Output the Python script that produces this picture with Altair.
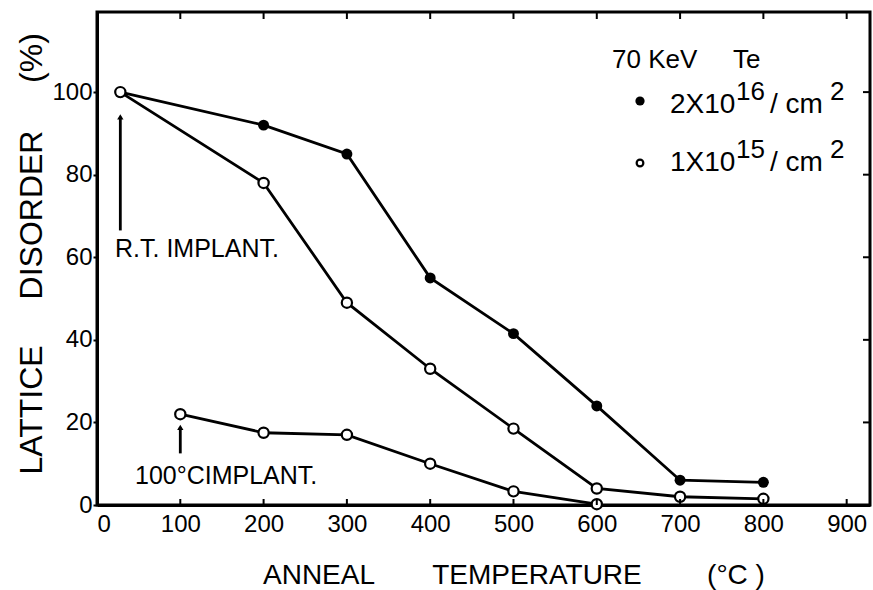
import altair as alt
import pandas as pd

# ---- data ----
temps_hi = [28, 200, 300, 400, 500, 600, 700, 800]
dis_hi = [100, 92, 85, 55, 41.5, 24, 6, 5.5]          # 2x10^16 /cm2 (filled)
temps_lo = [28, 200, 300, 400, 500, 600, 700, 800]
dis_lo = [100, 78, 49, 33, 18.5, 4, 2, 1.5]           # 1x10^15 /cm2 (open)
temps_100 = [100, 200, 300, 400, 500, 600]
dis_100 = [22, 17.5, 17, 10, 3.3, 0.2]                # 100C implant (open)

x_ticks = [0, 100, 200, 300, 400, 500, 600, 700, 800, 900]
y_ticks = [0, 20, 40, 60, 80, 100]

FONT = "Liberation Sans"
W, H = 773, 493

rows = []
for s, ts, ds, fill in [("hi", temps_hi, dis_hi, "filled"),
                        ("lo", temps_lo, dis_lo, "open"),
                        ("c100", temps_100, dis_100, "open")]:
    for t, d in zip(ts, ds):
        rows.append({"series": s, "T": t, "D": d, "fill": fill})
df = pd.DataFrame(rows)

xs = alt.Scale(domain=[0, 928], nice=False, zero=False)
ys = alt.Scale(domain=[0, 119.4], nice=False, zero=False)

x_axis = alt.Axis(values=x_ticks, labelFontSize=24, labelFont=FONT, labelColor="black",
                  ticks=False, domainColor="black", domainWidth=3, grid=False,
                  labelPadding=7, title="")
y_axis = alt.Axis(values=y_ticks, labelFontSize=24, labelFont=FONT, labelColor="black",
                  tickSize=4, tickWidth=2, tickColor="black", domainColor="black",
                  domainWidth=3, grid=False, labelPadding=1, title="")

base = alt.Chart(df).encode(
    x=alt.X("T:Q", scale=xs, axis=x_axis),
    y=alt.Y("D:Q", scale=ys, axis=y_axis),
)
lines = base.mark_line(color="black", strokeWidth=2.8).encode(detail="series:N")
filled = base.transform_filter(alt.datum.fill == "filled").mark_point(
    shape="circle", size=120, filled=True, color="black", opacity=1)
openp = base.transform_filter(alt.datum.fill == "open").mark_point(
    shape="circle", size=105, filled=True, fill="white", stroke="black",
    strokeWidth=2.2, opacity=1)

# inward ticks on bottom, top and right
tick_df = pd.DataFrame({"T": x_ticks[1:]})
bot_ticks = alt.Chart(tick_df).mark_rule(color="black", strokeWidth=2).encode(
    x=alt.X("T:Q", scale=xs), y=alt.value(H), y2=alt.value(H - 6))
top_ticks = alt.Chart(tick_df).mark_rule(color="black", strokeWidth=2).encode(
    x=alt.X("T:Q", scale=xs), y=alt.value(0), y2=alt.value(7))
rt_df = pd.DataFrame({"D": y_ticks[1:]})
right_ticks = alt.Chart(rt_df).mark_rule(color="black", strokeWidth=2).encode(
    y=alt.Y("D:Q", scale=ys), x=alt.value(W), x2=alt.value(W - 7))

# arrows
arrow_df = pd.DataFrame({"T": [28, 100], "y1": [66.5, 12.5], "y2": [94.0, 18.8]})
arrow_lines = alt.Chart(arrow_df).mark_rule(color="black", strokeWidth=2.8).encode(
    x=alt.X("T:Q", scale=xs), y=alt.Y("y1:Q", scale=ys), y2="y2:Q")
arrow_heads = alt.Chart(arrow_df).mark_point(
    shape="triangle-up", size=40, filled=True, color="black", opacity=1).encode(
    x=alt.X("T:Q", scale=xs), y=alt.Y("y2:Q", scale=ys))

ann_df = pd.DataFrame({"T": [21.6, 45.6], "D": [60.0, 5.2],
                       "label": ["R.T. IMPLANT.", "100°CIMPLANT."]})
ann = alt.Chart(ann_df).mark_text(align="left", baseline="alphabetic", fontSize=25,
                                  font=FONT, color="black").encode(
    x=alt.X("T:Q", scale=xs), y=alt.Y("D:Q", scale=ys), text="label:N")


def txt(s, x, y, size, align="left", angle=0):
    kw = dict(align=align, baseline="alphabetic", fontSize=size, font=FONT, color="black")
    if angle:
        kw["angle"] = angle
    return alt.Chart(pd.DataFrame({"t": [s]})).mark_text(**kw).encode(
        x=alt.value(x), y=alt.value(y), text="t:N")


# axis titles (pixel positions relative to plot origin)
xt = [txt("ANNEAL", 222, 572, 28, "center"),
      txt("TEMPERATURE", 440, 572, 28, "center"),
      txt("(°C )", 639, 572, 28, "center")]
yt = [txt("LATTICE", -55, 398, 32, "center", 270),
      txt("DISORDER", -55, 203, 32, "center", 270),
      txt("(%)", -55, 46, 32, "center", 270)]

# legend
leg = [
    txt("70 KeV", 515, 56, 26),
    txt("Te", 636, 56, 26),
    txt("2X10", 573, 101, 28), txt("16", 639, 88, 26), txt("/ cm", 673, 101, 28),
    txt("2", 733, 88, 26),
    txt("1X10", 573, 159, 28), txt("15", 639, 146, 26), txt("/ cm", 673, 159, 28),
    txt("2", 733, 146, 26),
]
leg_p1 = alt.Chart(pd.DataFrame({"a": [1]})).mark_point(
    shape="circle", size=85, filled=True, color="black", opacity=1).encode(
    x=alt.value(543), y=alt.value(89))
leg_p2 = alt.Chart(pd.DataFrame({"a": [1]})).mark_point(
    shape="circle", size=45, filled=True, fill="white", stroke="black",
    strokeWidth=2.2, opacity=1).encode(x=alt.value(543), y=alt.value(151))

chart = alt.layer(
    lines, filled, openp, bot_ticks, top_ticks, right_ticks,
    arrow_lines, arrow_heads, ann, *xt, *yt, *leg, leg_p1, leg_p2
).properties(
    width=W, height=H,
    autosize=alt.AutoSizeParams(type="none"),
    padding={"left": 97, "top": 12, "right": 3, "bottom": 85},
    background="white",
).configure_view(stroke="black", strokeWidth=3)

chart.save("out.html", embed_options={"renderer": "svg", "actions": False})
